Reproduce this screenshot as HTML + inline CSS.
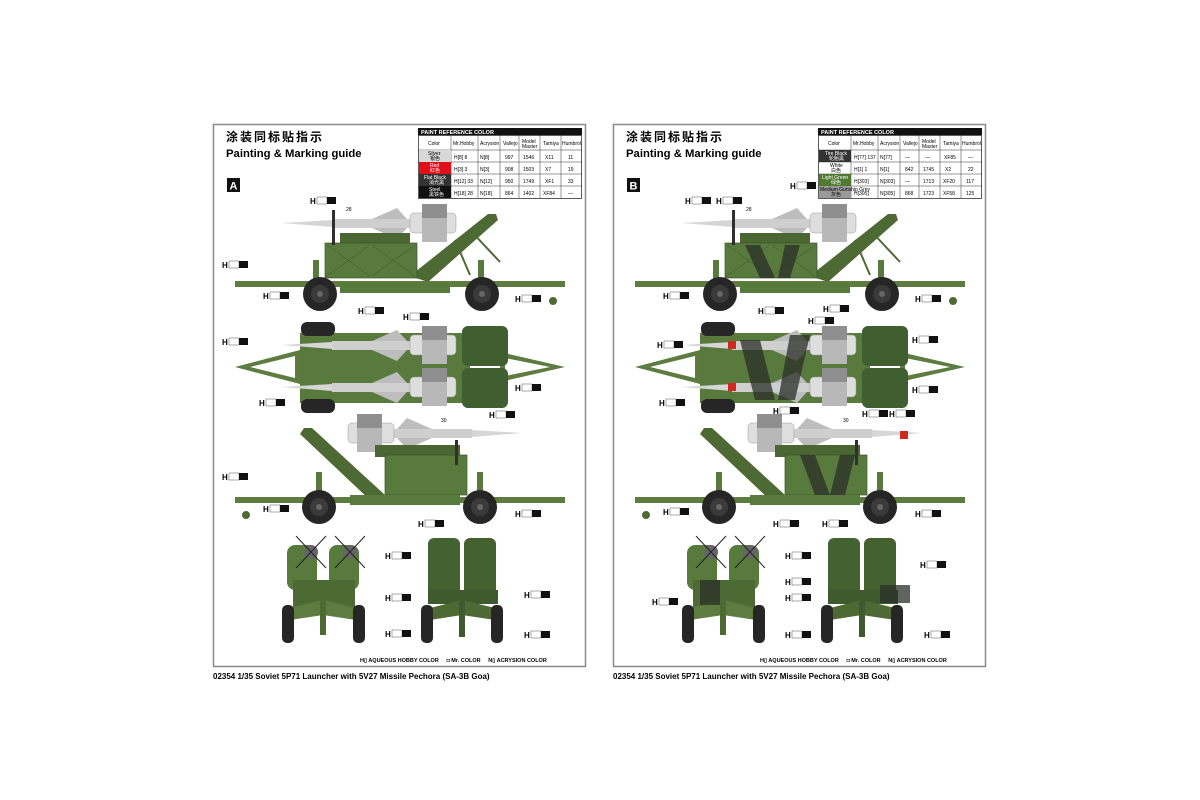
<!DOCTYPE html>
<html><head><meta charset="utf-8"><style>
html,body{margin:0;padding:0;background:#fff;}
svg{display:block;font-family:"Liberation Sans","Noto Sans CJK SC",sans-serif;}
.t{font-size:5px;fill:#000}
.lb{font-size:8px;font-weight:bold;fill:#000}
</style></head><body>
<svg width="1200" height="800" viewBox="0 0 1200 800" xmlns="http://www.w3.org/2000/svg">
<defs>
<g id="wheel"><circle r="17" fill="#262626"/><circle r="9" fill="#3a3a3a"/><circle r="3" fill="#666"/></g>
<g id="missileL">
 <polygon points="0,5 50,2 50,9" fill="#d6d6d6"/>
 <rect x="50" y="1" width="85" height="9" fill="#cfcfcf"/>
 <polygon points="90,1 115,-10 125,1" fill="#bdbdbd"/>
 <polygon points="90,10 115,21 125,10" fill="#bdbdbd"/>
 <rect x="128" y="-5" width="46" height="20" rx="4" fill="#dedede" stroke="#999" stroke-width=".5"/>
 <rect x="140" y="-14" width="25" height="38" fill="#b8b8b8"/>
 <rect x="140" y="-14" width="25" height="14" fill="#8f8f8f"/>
</g>
<g id="side1">
 <use href="#missileL" x="282" y="218"/>
 <polygon points="410,276 488,214 496,214 498,220 428,282" fill="#4e6a34"/>
 <line x1="470" y1="230" x2="500" y2="262" stroke="#4e6a34" stroke-width="2"/>
 <line x1="455" y1="240" x2="470" y2="275" stroke="#4e6a34" stroke-width="2"/>
 <rect x="340" y="233" width="70" height="12" fill="#4a6632"/>
 <rect x="325" y="243" width="92" height="35" fill="#587a3c" stroke="#3c5428" stroke-width=".7"/>
 <line x1="327" y1="245" x2="370" y2="276" stroke="#3c5428" stroke-width=".5"/><line x1="370" y1="245" x2="327" y2="276" stroke="#3c5428" stroke-width=".5"/>
 <line x1="372" y1="245" x2="415" y2="276" stroke="#3c5428" stroke-width=".5"/><line x1="415" y1="245" x2="372" y2="276" stroke="#3c5428" stroke-width=".5"/>
 <rect x="332" y="210" width="3" height="35" fill="#2f2f2f"/>
 <rect x="235" y="281" width="330" height="6" fill="#5e7c3f"/>
 <rect x="340" y="283" width="110" height="10" fill="#587a3c"/>
 <rect x="313" y="260" width="6" height="22" fill="#587a3c"/><rect x="478" y="260" width="6" height="22" fill="#587a3c"/>
 <use href="#wheel" x="320" y="294"/><use href="#wheel" x="482" y="294"/>
 <circle cx="553" cy="301" r="4" fill="#4e6a34"/>
</g>
<g id="top">
 <polygon points="235,367 300,350 300,384" fill="#5e7c3f"/>
 <polygon points="250,367 295,356 295,378" fill="#fff"/>
 <polygon points="565,367 500,352 500,382" fill="#5e7c3f"/>
 <polygon points="550,367 505,358 505,376" fill="#fff"/>
 <rect x="300" y="333" width="170" height="70" fill="#587a3c"/>
 <rect x="301" y="322" width="34" height="14" rx="6" fill="#262626"/>
 <rect x="301" y="399" width="34" height="14" rx="6" fill="#262626"/>
 <rect x="462" y="326" width="46" height="40" rx="6" fill="#3f5f30"/>
 <rect x="462" y="368" width="46" height="40" rx="6" fill="#3f5f30"/>
 <use href="#missileL" x="282" y="340"/>
 <use href="#missileL" x="282" y="382"/>
</g>
<g id="side2">
 <g transform="translate(870,0) scale(-1,1)"><use href="#missileL" x="348" y="428"/></g>
 <polygon points="385,495 312,428 304,428 300,434 370,500" fill="#4e6a34"/>
 <rect x="375" y="445" width="85" height="12" fill="#4a6632"/>
 <rect x="385" y="455" width="82" height="40" fill="#587a3c" stroke="#3c5428" stroke-width=".7"/>
 <rect x="455" y="440" width="3" height="25" fill="#2f2f2f"/>
 <rect x="235" y="497" width="330" height="6" fill="#5e7c3f"/>
 <rect x="350" y="495" width="110" height="10" fill="#587a3c"/>
 <rect x="316" y="472" width="6" height="22" fill="#587a3c"/><rect x="477" y="472" width="6" height="22" fill="#587a3c"/>
 <use href="#wheel" x="319" y="507"/><use href="#wheel" x="480" y="507"/>
 <circle cx="246" cy="515" r="4" fill="#4e6a34"/>
</g>
<g id="front1">
 <rect x="287" y="545" width="30" height="45" rx="8" fill="#587a3c"/>
 <rect x="329" y="545" width="30" height="45" rx="8" fill="#587a3c"/>
 <circle cx="311" cy="552" r="7" fill="#666"/><circle cx="350" cy="552" r="7" fill="#666"/>
 <line x1="296" y1="536" x2="326" y2="568" stroke="#222"/><line x1="326" y1="536" x2="296" y2="568" stroke="#222"/>
 <line x1="335" y1="536" x2="365" y2="568" stroke="#222"/><line x1="365" y1="536" x2="335" y2="568" stroke="#222"/>
 <rect x="293" y="580" width="62" height="30" fill="#4e6a34"/>
 <polygon points="290,608 323,600 356,608 356,620 323,615 290,620" fill="#5e7c3f"/>
 <rect x="282" y="605" width="12" height="38" rx="5" fill="#262626"/>
 <rect x="353" y="605" width="12" height="38" rx="5" fill="#262626"/>
 <rect x="320" y="590" width="6" height="45" fill="#4e6a34"/>
</g>
<g id="front2">
 <rect x="428" y="538" width="32" height="58" rx="6" fill="#44622f"/>
 <rect x="464" y="538" width="32" height="58" rx="6" fill="#44622f"/>
 <rect x="428" y="590" width="70" height="14" fill="#3f5a2c"/>
 <polygon points="430,608 462,600 495,608 495,620 462,615 430,620" fill="#4e6a34"/>
 <rect x="421" y="605" width="12" height="38" rx="5" fill="#262626"/>
 <rect x="491" y="605" width="12" height="38" rx="5" fill="#262626"/>
 <rect x="459" y="595" width="6" height="42" fill="#3f5a2c"/>
</g>
<g id="frame">
 <rect x="213.5" y="124.5" width="372" height="542" fill="none" stroke="#8a8a8a" stroke-width="1.5"/>
 <text x="226" y="141" style="font-size:12px;font-weight:bold;letter-spacing:2px">涂装同标贴指示</text>
 <text x="226" y="157" style="font-size:11.3px;font-weight:bold">Painting &amp; Marking guide</text>
 <use href="#side1"/><use href="#top"/><use href="#side2"/><use href="#front1"/><use href="#front2"/>
 <text x="360" y="662" style="font-size:5.5px;font-weight:bold">H▯ AQUEOUS HOBBY COLOR &#160;&#160;&#160; ◘ Mr. COLOR &#160;&#160;&#160; N▯ ACRYSION COLOR</text>
 <text x="213" y="679" style="font-size:8px;font-weight:bold">02354 1/35 Soviet 5P71 Launcher with 5V27 Missile Pechora (SA-3B Goa)</text>
</g>
<g id="lbl"><text x="0" y="7" class="lb">H</text><rect x="7" y="0" width="10" height="7" fill="#fff" stroke="#555" stroke-width=".5"/><rect x="17" y="0" width="9" height="7" fill="#111"/></g>
</defs>

<use href="#frame"/>
<use href="#frame" x="400"/>

<g fill="#2b2f28" opacity=".75">
 <polygon points="745,245 760,245 775,278 760,278"/>
 <polygon points="785,245 800,245 790,278 778,278"/>
 <polygon points="740,340 760,340 775,400 755,400"/>
 <polygon points="790,335 810,335 795,400 778,400"/>
 <polygon points="800,455 815,455 830,495 815,495"/>
 <polygon points="840,455 855,455 845,495 830,495"/>
 <rect x="880" y="585" width="30" height="18"/>
 <rect x="700" y="580" width="20" height="25"/>
</g>
<g fill="#d02a20">
 <rect x="728" y="341" width="8" height="8"/><rect x="728" y="383" width="8" height="8"/><rect x="900" y="431" width="8" height="8"/>
</g>

<g id="tbl">
<rect x="418" y="128" width="164" height="7" fill="#111"/>
<text x="421" y="134" style="font-size:5.5px;font-weight:bold;fill:#fff">PAINT  REFERENCE COLOR</text>
<rect x="418.5" y="135.5" width="163" height="63" fill="#fff" stroke="#333" stroke-width=".8"/>
<g stroke="#333" stroke-width=".5">
<line x1="418" y1="150" x2="582" y2="150"/><line x1="418" y1="162" x2="582" y2="162"/><line x1="418" y1="174" x2="582" y2="174"/><line x1="418" y1="186" x2="582" y2="186"/>
<line x1="451" y1="135" x2="451" y2="198"/><line x1="478" y1="135" x2="478" y2="198"/><line x1="500" y1="135" x2="500" y2="198"/><line x1="519" y1="135" x2="519" y2="198"/><line x1="540" y1="135" x2="540" y2="198"/><line x1="561" y1="135" x2="561" y2="198"/>
</g>
<text class="t" x="428" y="145">Color</text><text class="t" x="453" y="145">Mr.Hobby</text><text class="t" x="480" y="145">Acrysion</text><text class="t" x="503" y="145">Vallejo</text><text class="t" x="522" y="143">Model</text><text class="t" x="522" y="148">Master</text><text class="t" x="543" y="145">Tamiya</text><text class="t" x="562" y="145">Humbrol</text>
</g>
<use href="#tbl" x="400"/>
<rect x="419" y="150" width="32" height="12" fill="#d8d8d8"/><rect x="419" y="162" width="32" height="12" fill="#e0101a"/><rect x="419" y="174" width="32" height="12" fill="#333"/><rect x="419" y="186" width="32" height="12" fill="#111"/>
<text class="t" x="428" y="155">Silver</text><text class="t" x="430" y="160">银色</text>
<text class="t" style="fill:#fff" x="430" y="167">Red</text><text class="t" style="fill:#fff" x="430" y="172">红色</text>
<text class="t" style="fill:#fff" x="424" y="179">Flat Black</text><text class="t" style="fill:#fff" x="429" y="184">消光黑</text>
<text class="t" style="fill:#fff" x="429" y="191">Steel</text><text class="t" style="fill:#fff" x="429" y="196">黑铁色</text>
<g class="t" font-size="6">
<text x="454" y="159">H[8] 8</text><text x="480" y="159">N[8]</text><text x="505" y="159">997</text><text x="523" y="159">1546</text><text x="545" y="159">X11</text><text x="568" y="159">11</text>
<text x="454" y="171">H[3] 3</text><text x="480" y="171">N[3]</text><text x="505" y="171">908</text><text x="523" y="171">1503</text><text x="545" y="171">X7</text><text x="568" y="171">19</text>
<text x="454" y="183">H[12] 33</text><text x="480" y="183">N[12]</text><text x="505" y="183">950</text><text x="523" y="183">1749</text><text x="545" y="183">XF1</text><text x="568" y="183">33</text>
<text x="454" y="195">H[18] 28</text><text x="480" y="195">N[18]</text><text x="505" y="195">864</text><text x="523" y="195">1402</text><text x="543" y="195">XF84</text><text x="568" y="195">—</text>
</g>
<rect x="819" y="150" width="32" height="12" fill="#333"/><rect x="819" y="174" width="32" height="12" fill="#4f7a30"/><rect x="819" y="186" width="32" height="12" fill="#9a9a9a"/>
<text class="t" style="fill:#fff" x="825" y="155">Tire Black</text><text class="t" style="fill:#fff" x="829" y="160">轮胎黑</text>
<text class="t" x="830" y="167">White</text><text class="t" x="831" y="172">白色</text>
<text class="t" style="fill:#fff" x="822" y="179">Light Green</text><text class="t" style="fill:#fff" x="831" y="184">绿色</text>
<text class="t" x="820" y="191" font-size="3.5">Medium Gunship Grey</text><text class="t" x="831" y="196">灰色</text>
<g class="t" font-size="6">
<text x="854" y="159">H[77] 137</text><text x="880" y="159">N[77]</text><text x="905" y="159">—</text><text x="925" y="159">—</text><text x="944" y="159">XF85</text><text x="968" y="159">—</text>
<text x="854" y="171">H[1] 1</text><text x="880" y="171">N[1]</text><text x="905" y="171">842</text><text x="923" y="171">1745</text><text x="945" y="171">X2</text><text x="968" y="171">22</text>
<text x="854" y="183">H[303]</text><text x="880" y="183">N[303]</text><text x="905" y="183">—</text><text x="923" y="183">1713</text><text x="943" y="183">XF20</text><text x="966" y="183">117</text>
<text x="854" y="195">H[305]</text><text x="880" y="195">N[305]</text><text x="905" y="195">868</text><text x="923" y="195">1723</text><text x="943" y="195">XF58</text><text x="966" y="195">125</text>
</g>

<rect x="227" y="178" width="13" height="14" fill="#111"/><text x="229.5" y="189.5" style="font-size:11px;font-weight:bold;fill:#fff">A</text>
<rect x="627" y="178" width="13" height="14" fill="#111"/><text x="629.5" y="189.5" style="font-size:11px;font-weight:bold;fill:#fff">B</text>

<g>
<use href="#lbl" x="310" y="197"/><text x="346" y="211" class="t" font-size="7">28</text>
<use href="#lbl" x="222" y="261"/><use href="#lbl" x="263" y="292"/><use href="#lbl" x="515" y="295"/><use href="#lbl" x="358" y="307"/>
<use href="#lbl" x="403" y="313"/><use href="#lbl" x="222" y="338"/><use href="#lbl" x="515" y="384"/><use href="#lbl" x="259" y="399"/>
<use href="#lbl" x="489" y="411"/><text x="441" y="422" class="t" font-size="7">30</text>
<use href="#lbl" x="222" y="473"/><use href="#lbl" x="263" y="505"/><use href="#lbl" x="515" y="510"/><use href="#lbl" x="418" y="520"/>
<use href="#lbl" x="385" y="552"/><use href="#lbl" x="385" y="594"/><use href="#lbl" x="385" y="630"/>
<use href="#lbl" x="524" y="591"/><use href="#lbl" x="524" y="631"/>
</g>
<g>
<use href="#lbl" x="685" y="197"/><use href="#lbl" x="716" y="197"/><text x="746" y="211" class="t" font-size="7">28</text><use href="#lbl" x="790" y="182"/>
<use href="#lbl" x="663" y="292"/><use href="#lbl" x="915" y="295"/><use href="#lbl" x="758" y="307"/><use href="#lbl" x="823" y="305"/>
<use href="#lbl" x="808" y="317"/><use href="#lbl" x="657" y="341"/><use href="#lbl" x="912" y="336"/><use href="#lbl" x="912" y="386"/><use href="#lbl" x="659" y="399"/>
<use href="#lbl" x="773" y="407"/><use href="#lbl" x="862" y="410"/><use href="#lbl" x="889" y="410"/><text x="843" y="422" class="t" font-size="7">30</text>
<use href="#lbl" x="663" y="508"/><use href="#lbl" x="915" y="510"/><use href="#lbl" x="773" y="520"/><use href="#lbl" x="822" y="520"/>
<use href="#lbl" x="785" y="552"/><use href="#lbl" x="785" y="578"/><use href="#lbl" x="785" y="594"/><use href="#lbl" x="652" y="598"/><use href="#lbl" x="785" y="631"/>
<use href="#lbl" x="920" y="561"/><use href="#lbl" x="924" y="631"/>
</g>
</svg>
</body></html>
